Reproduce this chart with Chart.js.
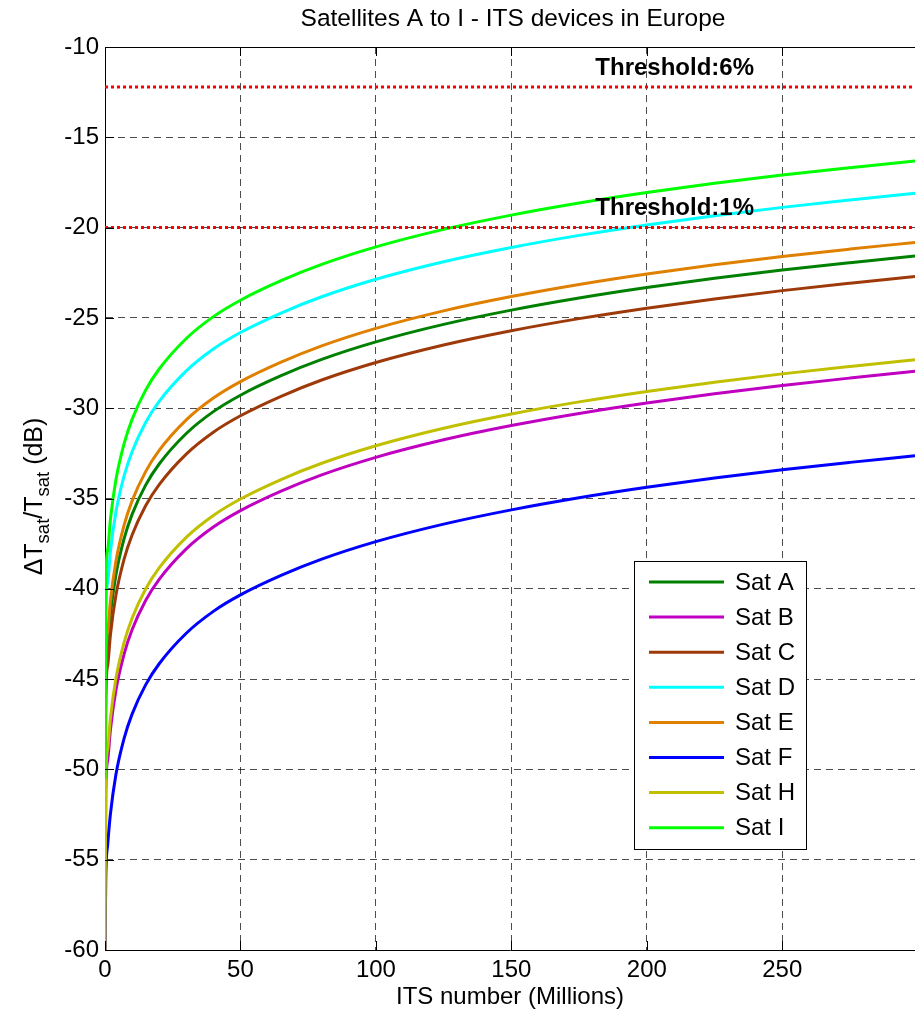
<!DOCTYPE html>
<html lang="en">
<head>
<meta charset="UTF-8">
<title>Satellites A to I - ITS devices in Europe</title>
<script src="https://cdn.jsdelivr.net/npm/chart.js"></script>
<style>
  html, body { margin: 0; padding: 0; background: #fff; overflow: hidden; }
</style>
</head>
<body>
<canvas id="chart" width="915" height="1015"></canvas>
<script>
// ITS number, millions
const itsMillions = [0, 0.3, 1, 2, 4, 7, 10, 15, 20, 30, 40, 50, 65, 80, 100, 125, 150, 175, 200, 225, 250, 275, 299];

// dTsat/Tsat in dB
const satA = [-54.5, -44.87, -43.11, -41.42, -39.25, -37.25, -35.88, -34.26, -33.09, -31.40, -30.19, -29.28, -28.20, -27.30, -26.33, -25.36, -24.57, -23.90, -23.32, -22.81, -22.35, -21.94, -21.57];
const satB = [-60, -51.26, -49.50, -47.81, -45.64, -43.64, -42.27, -40.65, -39.48, -37.79, -36.58, -35.67, -34.59, -33.69, -32.72, -31.75, -30.96, -30.29, -29.71, -29.20, -28.74, -28.33, -27.96];
const satC = [-56, -46.01, -44.25, -42.56, -40.39, -38.39, -37.02, -35.40, -34.23, -32.54, -31.33, -30.42, -29.34, -28.44, -27.47, -26.50, -25.71, -25.04, -24.46, -23.95, -23.49, -23.08, -22.71];
const satD = [-52, -41.40, -39.64, -37.95, -35.78, -33.78, -32.41, -30.79, -29.62, -27.93, -26.72, -25.81, -24.73, -23.83, -22.86, -21.89, -21.10, -20.43, -19.85, -19.34, -18.88, -18.47, -18.10];
const satE = [-53.5, -44.12, -42.36, -40.67, -38.50, -36.50, -35.13, -33.51, -32.34, -30.65, -29.44, -28.53, -27.45, -26.55, -25.58, -24.61, -23.82, -23.15, -22.57, -22.06, -21.60, -21.19, -20.82];
const satF = [-60, -55.93, -54.17, -52.48, -50.31, -48.31, -46.94, -45.32, -44.15, -42.46, -41.25, -40.34, -39.26, -38.36, -37.39, -36.42, -35.63, -34.96, -34.38, -33.87, -33.41, -33.00, -32.63];
const satH = [-60, -50.62, -48.86, -47.17, -45.00, -43.00, -41.63, -40.01, -38.84, -37.15, -35.94, -35.03, -33.95, -33.05, -32.08, -31.11, -30.32, -29.65, -29.07, -28.56, -28.10, -27.69, -27.32];
const satI = [-50.5, -39.61, -37.85, -36.16, -33.99, -31.99, -30.62, -29.00, -27.83, -26.14, -24.93, -24.02, -22.94, -22.04, -21.07, -20.10, -19.31, -18.64, -18.06, -17.55, -17.09, -16.68, -16.31];

const satNames = ['Sat A', 'Sat B', 'Sat C', 'Sat D', 'Sat E', 'Sat F', 'Sat H', 'Sat I'];
const satSeries = [satA, satB, satC, satD, satE, satF, satH, satI];
const satColors = ['#008000', '#C000C0', '#9E3A0A', '#00FFFF', '#E08000', '#0000FF', '#C0C000', '#00FF00'];

const thresholds = [-12.22, -20];
const thresholdLabels = ['Threshold:6%', 'Threshold:1%'];
const thresholdLabelX = 181;

const xTicks = [0, 50, 100, 150, 200, 250];
const yTicks = [-60, -55, -50, -45, -40, -35, -30, -25, -20, -15, -10];
const xMin = 0, xMax = 299;
const yMin = -60, yMax = -10;

const FONT = 'Arial, "Liberation Sans", Helvetica, sans-serif';
Chart.defaults.font.family = FONT;
Chart.defaults.font.size = 24;
Chart.defaults.color = '#000';

const datasets = satSeries.map((arr, i) => ({
    label: satNames[i],
    data: itsMillions.map((x, j) => ({ x: x, y: arr[j] })),
    borderColor: satColors[i],
    borderWidth: 3,
    pointRadius: 0,
    fill: false,
    cubicInterpolationMode: 'monotone',
    order: satNames.length - i
}));

thresholds.forEach((t, i) => {
    datasets.push({
        label: thresholdLabels[i],
        data: [{ x: xMin, y: t }, { x: xMax, y: t }],
        borderColor: '#FF0000',
        borderWidth: 3,
        borderDash: [3, 3],
        pointRadius: 0,
        fill: false,
        order: 0
    });
});

// title, box, inward ticks, ylabel with subscripts, threshold texts, legend
const decorations = {
    id: 'decorations',
    afterDraw(chart) {
        const ctx = chart.ctx;
        const area = chart.chartArea;
        const xs = chart.scales.x, ys = chart.scales.y;
        ctx.save();

        // top box line + inward ticks
        ctx.strokeStyle = '#000';
        ctx.lineWidth = 1;
        ctx.beginPath();
        ctx.moveTo(area.left, area.top + 0.5);
        ctx.lineTo(area.right, area.top + 0.5);
        xTicks.forEach(v => {
            const px = Math.round(xs.getPixelForValue(v)) + 0.5;
            ctx.moveTo(px, area.bottom); ctx.lineTo(px, area.bottom - 9);
            ctx.moveTo(px, area.top); ctx.lineTo(px, area.top + 9);
        });
        yTicks.forEach(v => {
            const py = Math.round(ys.getPixelForValue(v)) + 0.5;
            ctx.moveTo(area.left, py); ctx.lineTo(area.left + 9, py);
        });
        ctx.stroke();

        // title
        ctx.fillStyle = '#000';
        ctx.font = '24.5px ' + FONT;
        ctx.textAlign = 'center';
        ctx.textBaseline = 'middle';
        ctx.fillText('Satellites A to I - ITS devices in Europe', 513, 19);

        // y axis label
        const parts = [['\u0394T', false], ['sat', true], ['/T', false], ['sat', true], [' (dB)', false]];
        const mainFont = '25px ' + FONT, subFont = '18.5px ' + FONT;
        let total = 0;
        parts.forEach(p => { ctx.font = p[1] ? subFont : mainFont; total += ctx.measureText(p[0]).width; });
        ctx.save();
        ctx.translate(42, (area.top + area.bottom) / 2 - 2);
        ctx.rotate(-Math.PI / 2);
        ctx.textAlign = 'left';
        ctx.textBaseline = 'alphabetic';
        let cx = -total / 2;
        parts.forEach(p => {
            ctx.font = p[1] ? subFont : mainFont;
            ctx.fillText(p[0], cx, p[1] ? 7 : 0);
            cx += ctx.measureText(p[0]).width;
        });
        ctx.restore();

        // threshold texts
        ctx.font = 'bold 24px ' + FONT;
        ctx.textAlign = 'left';
        ctx.textBaseline = 'middle';
        thresholds.forEach((t, i) => {
            ctx.fillText(thresholdLabels[i], xs.getPixelForValue(thresholdLabelX), ys.getPixelForValue(t + 1.05));
        });

        // legend
        const lx = 634, ly = 561, lw = 172, lh = 288;
        ctx.fillStyle = '#fff';
        ctx.fillRect(lx, ly, lw, lh);
        ctx.strokeStyle = '#000';
        ctx.lineWidth = 1;
        ctx.strokeRect(lx + 0.5, ly + 0.5, lw, lh);
        ctx.font = '24px ' + FONT;
        ctx.textBaseline = 'middle';
        satNames.forEach((name, i) => {
            const ry = 582 + i * 35.1;
            ctx.strokeStyle = satColors[i];
            ctx.lineWidth = 3;
            ctx.beginPath();
            ctx.moveTo(649, ry); ctx.lineTo(724, ry);
            ctx.stroke();
            ctx.fillStyle = '#000';
            ctx.fillText(name, 735, ry + 1);
        });
        ctx.restore();
    }
};

new Chart(document.getElementById('chart'), {
    type: 'line',
    data: { datasets: datasets },
    options: {
        responsive: false,
        animation: false,
        layout: { padding: { top: 47, right: 0, bottom: 0, left: 0 } },
        plugins: {
            legend: { display: false },
            title: { display: false },
            tooltip: { enabled: false }
        },
        scales: {
            x: {
                type: 'linear',
                min: xMin,
                max: xMax,
                afterFit(scale) { scale.height = 65; scale.paddingRight = 0; },
                afterBuildTicks(scale) { scale.ticks = xTicks.map(v => ({ value: v })); },
                ticks: { padding: 6, maxRotation: 0, autoSkip: false, font: { size: 24 } },
                grid: { color: 'rgba(0,0,0,0.7)', lineWidth: 1, drawTicks: false },
                border: { color: '#000', width: 1, dash: [7, 5] },
                title: { display: true, text: 'ITS number (Millions)', font: { size: 24 }, padding: { top: 0, bottom: 3 } }
            },
            y: {
                type: 'linear',
                min: yMin,
                max: yMax,
                afterFit(scale) { scale.width = 105; },
                afterBuildTicks(scale) { scale.ticks = yTicks.map(v => ({ value: v })); },
                ticks: { padding: 6, autoSkip: false, font: { size: 24 } },
                grid: { color: 'rgba(0,0,0,0.7)', lineWidth: 1, drawTicks: false },
                border: { color: '#000', width: 1, dash: [7, 5] }
            }
        }
    },
    plugins: [decorations]
});
</script>
</body>
</html>
